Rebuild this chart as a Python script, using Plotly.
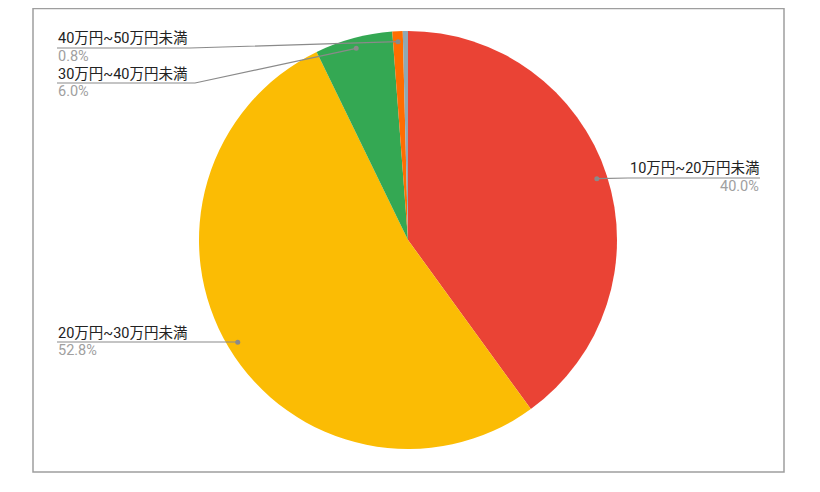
import math
import plotly.graph_objects as go

# data
labels = ['10万円~20万円未満', '20万円~30万円未満', '30万円~40万円未満', '40万円~50万円未満', '50万円以上']
values = [40.0, 52.8, 6.0, 0.8, 0.4]
colors = ['#EA4335', '#FBBC04', '#34A853', '#FF6D01', '#8FA8B4']
pct_text = ['40.0%', '52.8%', '6.0%', '0.8%', '']

OFF = 8  # page body margin of the html
W, H = 820 - OFF, 492 - OFF
CX, CY, R = 408, 240, 209  # pie centre / radius in screen pixels

def paper(x, y):
    return (x - OFF) / W, 1 - (y - OFF) / H

# label layout: (side, far end x, near end x, line y) per slice, None = no label
label_pos = [('right', 760, 628, 178),
             ('left', 57, 238, 342),
             ('left', 57, 195, 83),
             ('left', 57, 190, 48),
             None]

fig = go.Figure()
x0, y1 = paper(CX - R, CY - R)
x1, y0 = paper(CX + R, CY + R)
fig.add_trace(go.Pie(labels=labels, values=values, sort=False, direction='clockwise', rotation=0,
                     marker=dict(colors=colors, line=dict(width=0)),
                     textinfo='none', showlegend=False, hoverinfo='label+percent',
                     domain=dict(x=[x0, x1], y=[y0, y1])))

shapes = []
annotations = []
total = sum(values)
start = 0.0
for i, v in enumerate(values):
    mid = (start + v / 2) / total * 2 * math.pi
    start += v
    if label_pos[i] is None:
        continue
    side, far_x, near_x, ly = label_pos[i]
    dx = CX + 0.95 * R * math.sin(mid)
    dy = CY - 0.95 * R * math.cos(mid)
    pts = [paper(far_x, ly), paper(near_x, ly), paper(dx, dy)]
    path = 'M %f %f L %f %f L %f %f' % (pts[0] + pts[1] + pts[2])
    shapes.append(dict(type='path', path=path, xref='paper', yref='paper',
                       line=dict(color='#8a8a8a', width=1.2)))
    cx0, cy1 = paper(dx - 2.5, dy - 2.5)
    cx1, cy0 = paper(dx + 2.5, dy + 2.5)
    shapes.append(dict(type='circle', xref='paper', yref='paper', x0=cx0, x1=cx1, y0=cy0, y1=cy1,
                       fillcolor='#8a8a8a', line=dict(width=0)))
    anchor = 'left' if side == 'left' else 'right'
    ax, ay_top = paper(far_x, ly - 9)
    _, ay_bot = paper(far_x, ly + 8)
    annotations.append(dict(x=ax, y=ay_top, xref='paper', yref='paper', text=labels[i],
                            showarrow=False, xanchor=anchor, yanchor='middle', borderpad=0,
                            font=dict(size=14.5, color='#222222')))
    annotations.append(dict(x=ax, y=ay_bot, xref='paper', yref='paper', text=pct_text[i],
                            showarrow=False, xanchor=anchor, yanchor='middle', borderpad=0,
                            font=dict(size=14.5, color='#a0a0a0')))

# outer border
bx0, by1 = paper(33, 8.6)
bx1, by0 = paper(784, 472)
shapes.append(dict(type='rect', xref='paper', yref='paper', x0=bx0, x1=bx1, y0=by0, y1=by1,
                   line=dict(color='#9e9e9e', width=1.5), layer='below'))

fig.update_layout(width=W, height=H, margin=dict(l=0, r=0, t=0, b=0),
                  paper_bgcolor='white', plot_bgcolor='white',
                  font=dict(family='Roboto, "Noto Sans CJK JP", sans-serif'),
                  shapes=shapes, annotations=annotations)
fig.write_html('out.html')
